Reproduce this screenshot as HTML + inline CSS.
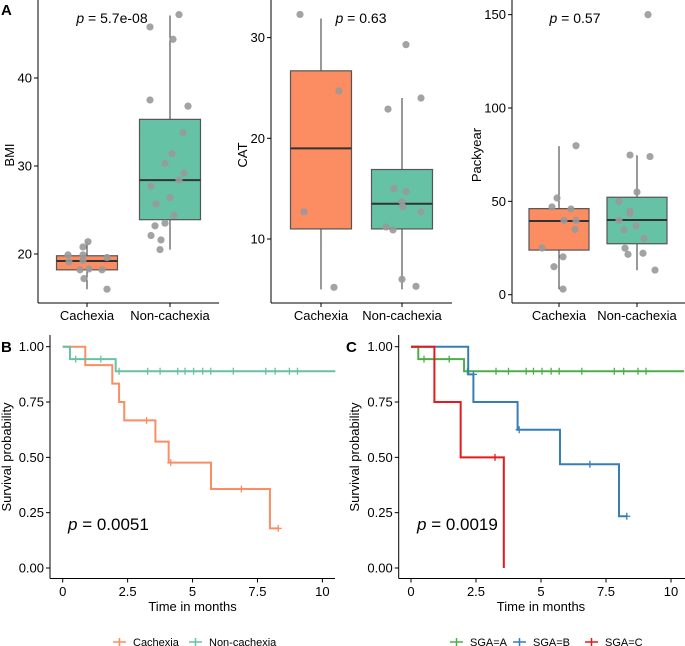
<!DOCTYPE html>
<html><head><meta charset="utf-8"><style>
body{margin:0;background:#fff}
svg{display:block;font-family:"Liberation Sans",Arial,sans-serif}
</style></head><body>
<svg id="c" width="685" height="646" viewBox="0 0 685 646"></svg>
<script>
// ---- data ----
const boxCategories = ["Cachexia","Non-cachexia"];
const bmiBoxes = [[16.0,18.2,19.2,19.8,21.4],[20.5,23.9,28.4,35.3,47.1]];
const bmiPtsC = [[1,21.4],[-4,20.8],[-19,19.9],[-18,19.1],[-4,19.9],[-4,19.3],[20,19.6],[-7,18.2],[2,18.3],[15,18.2],[-3,17.2],[20,16.0]];
const bmiPtsN = [[9,47.2],[-20,45.8],[3,44.4],[-20,37.5],[18,36.8],[13,33.8],[2,31.4],[-5,30.3],[14,29.2],[9,28.4],[-19,27.7],[-14,25.7],[0,26.4],[4,24.4],[-15,23.2],[-5,23.5],[-19,22.1],[-9,21.6],[-10,20.5]];
const catBoxes = [[5.0,11.0,19.0,26.7,31.9],[5.0,11.0,13.5,16.9,24.0]];
const catPtsC = [[-21,32.3],[18,24.7],[-17,12.7],[13,5.2]];
const catPtsN = [[4,29.3],[-14,22.9],[19,24.0],[-8,15.0],[4,14.7],[0,13.7],[1,13.2],[19,12.7],[-16,11.2],[-9,10.9],[0,6.0],[14,5.3]];
const packBoxes = [[3,23.9,39.5,46.1,79.6],[13.1,27.3,40,52.2,74.7]];
const packPtsC = [[17,79.8],[-2,51.8],[-7,47],[12,45.9],[5,39.8],[17,39.8],[16,35],[-17,25],[4,20.3],[-5,15],[4,3]];
const packPtsN = [[11,150],[-7,74.8],[13,74],[0,55],[-18,50],[-7,44.7],[-7,43.6],[-18,39.8],[-1,36.8],[-13,34.7],[7,30.2],[-12,24.9],[-9,21.6],[6,22.2],[18,13.2]];
// KM curves: [time, survival] step points
const kmCach = [[0,1],[0.87,0.917],[1.91,0.833],[2.17,0.75],[2.37,0.667],[3.57,0.571],[4.08,0.476],[5.71,0.357],[7.98,0.179]];
const kmCachEnd = 8.34;
const kmCachCens = [[3.23,0.667],[4.16,0.476],[6.88,0.357],[8.3,0.179]];
const kmNon = [[0,1],[0.28,0.944],[2.04,0.889]];
const kmNonEnd = 10.5;
const kmNonCens = [[0.5,0.944],[1.47,0.944],[2.17,0.889],[3.27,0.889],[3.75,0.889],[4.43,0.889],[4.71,0.889],[5.04,0.889],[5.39,0.889],[5.70,0.889],[6.57,0.889],[7.82,0.889],[8.18,0.889],[8.73,0.889],[9.04,0.889]];
const kmB = [[0,1],[2.2,0.875],[2.4,0.75],[4.1,0.625],[5.73,0.469],[8.0,0.234]];
const kmBEnd = 8.3;
const kmBCens = [[2.4,0.875],[4.16,0.625],[6.88,0.469],[8.3,0.234]];
const kmC = [[0,1],[0.9,0.75],[1.91,0.5],[3.57,0]];
const kmCEnd = 3.57;
const kmCCens = [[3.23,0.5]];
const xTicksKM = [0,2.5,5,7.5,10];
const xTickLabelsKM = ["0","2.5","5","7.5","10"];
const yTicksKM = [0,0.25,0.5,0.75,1];
const yTickLabelsKM = ["0.00","0.25","0.50","0.75","1.00"];

const NS="http://www.w3.org/2000/svg";
const svg=document.getElementById('c');
function el(tag,attrs,parent,txt){const e=document.createElementNS(NS,tag);for(const k in attrs)e.setAttribute(k,attrs[k]);if(txt!==undefined)e.textContent=txt;(parent||svg).appendChild(e);return e;}
function text(x,y,s,size,anchor,name,extra){const t=el('text',Object.assign({x:x,y:y,'font-size':size,'text-anchor':anchor||'middle',fill:'#000'},extra||{}),null,s);


return t;}

function boxPanel(o){
  const g=el('g',{});
  
  
  const y=v=>o.y0-(v-o.v0)*o.k;
  const xs=[o.xc0,o.xc1];
  const fills=['#FC8D62','#66C2A5'];
  o.boxes.forEach((b,i)=>{
    const x=xs[i],w=o.bw/2;
    const wl=el('line',{x1:x,x2:x,y1:y(b[0]),y2:y(b[4]),stroke:'#333','stroke-width':1},g);
    
    
    const r=el('rect',{x:x-w,y:y(b[3]),width:o.bw,height:y(b[1])-y(b[3]),fill:fills[i],stroke:'#555','stroke-width':1.2},g);
    
    
    const m=el('line',{x1:x-w,x2:x+w,y1:y(b[2]),y2:y(b[2]),stroke:'#333','stroke-width':2},g);
    
    
  });
  [o.ptsC,o.ptsN].forEach((pts,i)=>pts.forEach(p=>{
    const c=el('circle',{cx:xs[i]+p[0],cy:y(p[1]),r:3.6,fill:'#999','fill-opacity':0.9},g);
    
    
  }));
  el('line',{x1:o.ax,x2:o.ax,y1:0,y2:303,stroke:'#000','stroke-width':1},g);
  el('line',{x1:o.ax,x2:o.right,y1:303,y2:303,stroke:'#000','stroke-width':1},g);
  o.ticks.forEach(t=>{
    el('line',{x1:o.ax-4,x2:o.ax,y1:y(t),y2:y(t),stroke:'#000'},g);
    text(o.ax-6,y(t)+4.5,String(t),13,'end','y-tick-label');
  });
  xs.forEach((x,i)=>{
    el('line',{x1:x,x2:x,y1:303,y2:307,stroke:'#000'},g);
    text(x,320,boxCategories[i],13,'middle','x-tick-label');
  });
  text(o.ytx,155,o.ytitle,13,'middle','y-axis-title',{transform:`rotate(-90 ${o.ytx} 155)`});
  const p=text(o.px,23,'',14,'middle','p-value');
  el('tspan',{'font-style':'italic'},p,'p');
  el('tspan',{},p,' = '+o.p);
}
boxPanel({name:'bmi-panel',y0:254,v0:20,k:8.8,xc0:87,xc1:170,bw:61,ax:38,right:219,boxes:bmiBoxes,ptsC:bmiPtsC,ptsN:bmiPtsN,ticks:[20,30,40],ytitle:'BMI',ytx:14,px:112,p:'5.7e-08'});
boxPanel({name:'cat-panel',y0:239,v0:10,k:10.07,xc0:321,xc1:402,bw:61,ax:271,right:452,boxes:catBoxes,ptsC:catPtsC,ptsN:catPtsN,ticks:[10,20,30],ytitle:'CAT',ytx:247,px:361,p:'0.63'});
boxPanel({name:'packyear-panel',y0:294.7,v0:0,k:1.867,xc0:559,xc1:637,bw:60,ax:512,right:685,boxes:packBoxes,ptsC:packPtsC,ptsN:packPtsN,ticks:[0,50,100,150],ytitle:'Packyear',ytx:481,px:575,p:'0.57'});

function kmPanel(o){
  const g=el('g',{});
  
  
  const X=t=>o.x0+t*o.kx, Y=s=>568-s*221.3;
  o.series.forEach(s=>{
    let d='M'+X(s.pts[0][0])+' '+Y(s.pts[0][1]);
    for(let i=1;i<s.pts.length;i++){d+=' H'+X(s.pts[i][0])+' V'+Y(s.pts[i][1]);}
    d+=' H'+X(s.end);
    const p=el('path',{d:d,fill:'none',stroke:s.color,'stroke-width':2},g);
    
    
    s.cens.forEach(c=>{
      const m=el('path',{d:`M${X(c[0])-3.5} ${Y(c[1])} h7 M${X(c[0])} ${Y(c[1])-3.5} v7`,stroke:s.color,'stroke-width':1.3},g);
      
      
    });
  });
  el('line',{x1:o.ax,x2:o.ax,y1:335,y2:578.5,stroke:'#000'},g);
  el('line',{x1:o.ax,x2:o.right,y1:578.5,y2:578.5,stroke:'#000'},g);
  yTicksKM.forEach((t,i)=>{
    el('line',{x1:o.ax-4,x2:o.ax,y1:Y(t),y2:Y(t),stroke:'#000'},g);
    text(o.ax-6,Y(t)+4.5,yTickLabelsKM[i],13,'end','y-tick-label');
  });
  xTicksKM.forEach((t,i)=>{
    el('line',{x1:X(t),x2:X(t),y1:578.5,y2:582.5,stroke:'#000'},g);
    text(X(t),596,xTickLabelsKM[i],13,'middle','x-tick-label');
  });
  text(o.x0+5*o.kx,611,'Time in months',13,'middle','x-axis-title');
  text(o.ytx,457,'Survival probability',13,'middle','y-axis-title',{transform:`rotate(-90 ${o.ytx} 457)`});
  const p=text(o.px,530,'',17,'start','p-value');
  el('tspan',{'font-style':'italic'},p,'p');
  el('tspan',{},p,' = '+o.p);
  o.legend.forEach(l=>{
    const ln=el('path',{d:`M${l.x} 642 h13 M${l.x+6.5} 638 v8`,stroke:l.color,'stroke-width':1.5},g);
    
    
    text(l.x+20,646,l.label,11,'start','legend-entry');
  });
}
kmPanel({name:'km-cachexia',x0:62.7,kx:25.97,ax:50,right:335,ytx:11,px:68,p:'0.0051',
  series:[{name:'cachexia',color:'#FC8D62',pts:kmCach,end:kmCachEnd,cens:kmCachCens},
          {name:'non-cachexia',color:'#66C2A5',pts:kmNon,end:kmNonEnd,cens:kmNonCens}],
  legend:[{x:113,color:'#FC8D62',label:'Cachexia'},{x:189,color:'#66C2A5',label:'Non-cachexia'}]});
kmPanel({name:'km-sga',x0:411,kx:26,ax:398.7,right:685,ytx:359,px:417,p:'0.0019',
  series:[{name:'sga-a',color:'#4DAF4A',pts:kmNon,end:kmNonEnd,cens:kmNonCens},
          {name:'sga-b',color:'#377EB8',pts:kmB,end:kmBEnd,cens:kmBCens},
          {name:'sga-c',color:'#E41A1C',pts:kmC,end:kmCEnd,cens:kmCCens}],
  legend:[{x:450,color:'#4DAF4A',label:'SGA=A'},{x:513,color:'#377EB8',label:'SGA=B'},{x:585,color:'#E41A1C',label:'SGA=C'}]});

text(1,15,'A',15,'start','panel-label-a',{'font-weight':'bold'});
text(1,352,'B',15,'start','panel-label-b',{'font-weight':'bold'});
text(346,352,'C',15,'start','panel-label-c',{'font-weight':'bold'});
</script>
</body></html>
